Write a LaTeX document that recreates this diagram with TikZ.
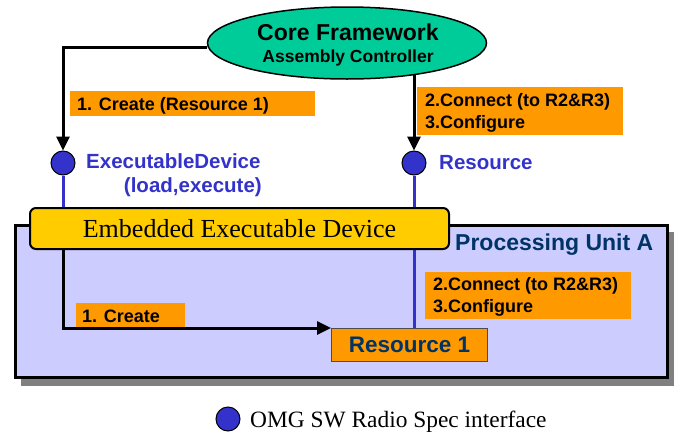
\documentclass[tikz,border=0pt]{standalone}
\usepackage{fontspec}
\setmainfont{Liberation Serif}
\setsansfont{Liberation Sans}
\usetikzlibrary{arrows.meta,shapes.geometric}

\definecolor{coreteal}{RGB}{0,204,153}
\definecolor{tagorange}{RGB}{255,153,0}
\definecolor{devyellow}{RGB}{255,204,0}
\definecolor{unitlilac}{RGB}{204,204,255}
\definecolor{portblue}{RGB}{51,51,204}
\definecolor{navytext}{RGB}{0,51,102}
\definecolor{shadowgray}{RGB}{128,128,128}

\newcommand\fsz[2]{\fontsize{#1}{#2}\selectfont}

\tikzset{
  flow/.style={draw=black, line width=3pt, -{Triangle[length=14pt,width=13pt]}},
  portline/.style={draw=portblue, line width=3pt},
  port/.style={circle, draw=black, line width=1pt, fill=portblue, minimum size=24pt, inner sep=0pt},
  tagbox/.style={fill=tagorange, inner sep=0pt, anchor=north west},
  tagtext/.style={font=\sffamily\bfseries\fsz{18}{21}, anchor=base west, inner sep=0pt},
  porttext/.style={font=\sffamily\bfseries\fsz{20.5}{24}, text=portblue, inner sep=0pt},
}

\begin{document}
\begin{tikzpicture}[x=1pt, y=-1pt]
\useasboundingbox (0,0) rectangle (675,434);

% processing unit with its drop shadow
\fill[shadowgray] (21,232) rectangle (674,386);
\node[draw=black, line width=3pt, fill=unitlilac, minimum width=652pt, minimum height=152pt,
      inner sep=0pt, anchor=north west] (pu) at (14,224) {};
\node[font=\sffamily\bfseries\fsz{23}{27}, text=navytext, anchor=base west, inner sep=0pt]
  (putitle) at (455,250) {Processing Unit A};

% core framework
\node[ellipse, draw=black, line width=1.5pt, fill=coreteal, minimum width=279pt,
      minimum height=72pt, inner sep=0pt] (core) at (347,43) {};
\node[font=\sffamily\bfseries\fsz{23}{27}, anchor=base, inner sep=0pt] (coretitle) at (348,40) {Core Framework};
\node[font=\sffamily\bfseries\fsz{17.5}{21}, anchor=base, inner sep=0pt] (coresub) at (348,62) {Assembly Controller};

% interface ports
\node[port] (ed) at (63,163) {};
\node[port] (res) at (414,163) {};
\node[porttext, anchor=base west] (edname) at (86,168) {ExecutableDevice};
\node[porttext, anchor=base east] (edops) at (262,192) {(load,execute)};
\node[porttext, anchor=base west] (resname) at (439,169) {Resource};

% resource 1
\node[draw=black!70, line width=1pt, fill=tagorange, minimum width=156pt, minimum height=33pt,
      inner sep=0pt, anchor=north west, font=\sffamily\bfseries\fsz{22.5}{26}, text=navytext]
  (r1) at (331,328) {Resource 1};

% port links
\draw[portline] (ed.south) -- (ed |- 0,209);
\draw[portline] (res.south) -- (res |- r1.north);

% embedded executable device
\node[draw=black, line width=2pt, fill=devyellow, rounded corners=6pt, minimum width=419pt,
      minimum height=41pt, inner sep=0pt, anchor=north west, font=\rmfamily\fsz{26}{30}]
  (eed) at (29,207) {Embedded Executable Device};

% calls
\coordinate (cfR) at (414,74);
\draw[flow] ([yshift=-4pt]core.west) -| (ed.north);
\draw[flow] (cfR) -- (cfR |- res.north);
\draw[flow] (ed |- eed.south) |- (r1.north west);

% call labels
\node[tagbox, minimum width=245pt, minimum height=25pt] (t1) at (70,91) {};
\node[tagtext] (t1a) at (77,110) {1. Create (Resource 1)};

\node[tagbox, minimum width=206pt, minimum height=48pt] (t2) at (417,87) {};
\node[tagtext] (t2a) at (425,106) {2.Connect (to R2\&R3)};
\node[tagtext] (t2b) at (425,128) {3.Configure};

\node[tagbox, minimum width=109pt, minimum height=24pt] (t3) at (76,303) {};
\node[tagtext] (t3a) at (82,322) {1. Create};

\node[tagbox, minimum width=206pt, minimum height=47pt] (t4) at (425,272) {};
\node[tagtext] (t4a) at (433,290) {2.Connect (to R2\&R3)};
\node[tagtext] (t4b) at (433,312) {3.Configure};

% legend
\node[port] (legdot) at (228,419) {};
\node[font=\rmfamily\fsz{23.4}{28}, anchor=base west, inner sep=0pt] (legtxt) at (250,427)
  {OMG SW Radio Spec interface};
\end{tikzpicture}
\end{document}
